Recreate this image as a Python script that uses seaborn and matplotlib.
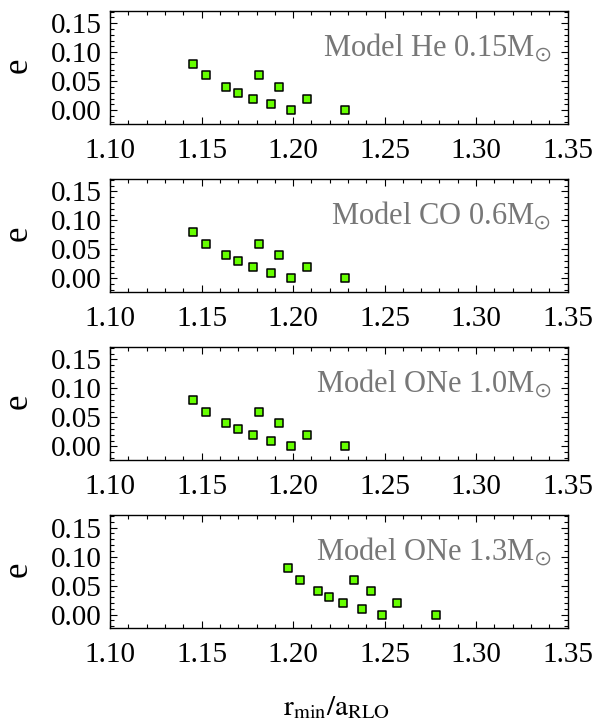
import matplotlib
matplotlib.use('Agg')
import matplotlib.pyplot as plt
import seaborn as sns
import pandas as pd
from matplotlib.ticker import MultipleLocator, FormatStrFormatter

# ---- data ----
models = [r'Model He 0.15M$_{\odot}$', r'Model CO 0.6M$_{\odot}$',
          r'Model ONe 1.0M$_{\odot}$', r'Model ONe 1.3M$_{\odot}$']
r_he = [1.145, 1.1525, 1.1634, 1.170, 1.178, 1.1813, 1.1879, 1.1922, 1.1988, 1.2076, 1.2286]
r_co = [1.145, 1.1525, 1.1634, 1.170, 1.178, 1.1813, 1.1879, 1.1922, 1.1988, 1.2076, 1.2286]
r_one10 = [1.145, 1.1525, 1.1634, 1.170, 1.178, 1.1813, 1.1879, 1.1922, 1.1988, 1.2076, 1.2286]
r_one13 = [1.1971, 1.2039, 1.2138, 1.2198, 1.2274, 1.2333, 1.2374, 1.2426, 1.2486, 1.2570, 1.2780]
e_vals = [0.08, 0.06, 0.04, 0.03, 0.02, 0.06, 0.01, 0.04, 0.00, 0.02, 0.00]
x_ticks = [1.10, 1.15, 1.20, 1.25, 1.30, 1.35]
y_ticks = [0.00, 0.05, 0.10, 0.15]

sns.set_theme(style='ticks')
plt.rcParams['font.family'] = ['Liberation Serif', 'DejaVu Serif']
plt.rcParams['mathtext.fontset'] = 'stix'

fig = plt.figure(figsize=(5.96, 7.22), dpi=100)
gs = fig.add_gridspec(4, 1, left=0.1849, right=0.9522, top=0.9852,
                      bottom=0.1298, hspace=0.484)

green = '#66ff00'
for i, (lab, xs) in enumerate(zip(models, [r_he, r_co, r_one10, r_one13])):
    ax = fig.add_subplot(gs[i])
    df = pd.DataFrame({'r': xs, 'e': e_vals})
    sns.scatterplot(data=df, x='r', y='e', ax=ax, marker='s', s=36,
                    color=green, edgecolor='black', linewidth=1.1,
                    legend=False, zorder=3)
    ax.set_xlim(1.10, 1.35)
    ax.set_ylim(-0.0236, 0.1717)
    ax.set_xticks(x_ticks)
    ax.set_yticks(y_ticks)
    ax.xaxis.set_minor_locator(MultipleLocator(0.01))
    ax.yaxis.set_minor_locator(MultipleLocator(0.01))
    ax.xaxis.set_major_formatter(FormatStrFormatter('%.2f'))
    ax.yaxis.set_major_formatter(FormatStrFormatter('%.2f'))
    ax.tick_params(which='both', direction='in', top=True, right=True,
                   color='black', width=0.8, labelsize=21, labelcolor='black')
    ax.tick_params(which='major', length=5)
    ax.tick_params(which='minor', length=3)
    ax.tick_params(axis='x', pad=10)
    ax.tick_params(axis='y', pad=6)
    for sp in ax.spines.values():
        sp.set_linewidth(1.0)
        sp.set_color('black')
    ax.set_xlabel('')
    ax.set_ylabel('e', fontsize=25, color='black')
    ax.yaxis.label.set_verticalalignment('baseline')
    ax.yaxis.set_label_coords(-0.182, 0.52)
    ax.text(0.965, 0.605, lab, transform=ax.transAxes, ha='right',
            va='baseline', color='#777777', fontsize=22)

fig.text(0.565, 0.0097, r'$\mathrm{r}_{\mathrm{min}}/\mathrm{a}_{\mathrm{RLO}}$',
         ha='center', va='baseline', fontsize=21, color='black')

fig.savefig('out.png', dpi=100)
